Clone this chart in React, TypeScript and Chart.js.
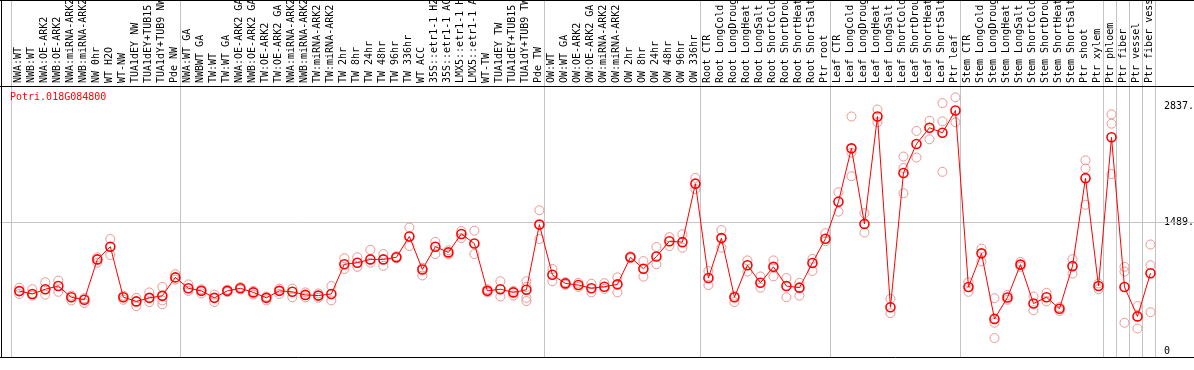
import React, { useEffect, useRef } from "react";
import { Chart, registerables } from "chart.js";

Chart.register(...registerables);

const geneId = "Potri.018G084800";

const categories: string[] = [
  "NWA:WT", "NWB:WT", "NWA:OE-ARK2", "NWB:OE-ARK2", "NWA:miRNA-ARK2", "NWB:miRNA-ARK2",
  "NW 0hr", "WT H2O", "WT-NW", "TUA1dEY NW", "TUA1dEY+TUB15 NW", "TUA1dY+TUB9 NW", "Pde NW",
  "NWA:WT GA", "NWBWT GA", "TW:WT", "TW:WT GA", "NWA:OE-ARK2 GA", "NWB:OE-ARK2 GA",
  "TW:OE-ARK2", "TW:OE-ARK2 GA", "NWA:miRNA-ARK2", "NWB:miRNA-ARK2", "TW:miRNA-ARK2",
  "TW:miRNA-ARK2", "TW 2hr", "TW 8hr", "TW 24hr", "TW 48hr", "TW 96hr", "TW 336hr", "WT ACC",
  "35S::etr1-1 H2O", "35S::etr1-1 ACC", "LMX5::etr1-1 H2O", "LMX5::etr1-1 ACC", "WT-TW",
  "TUA1dEY TW", "TUA1dEY+TUB15 TW", "TUA1dY+TUB9 TW", "Pde TW",
  "OW:WT", "OW:WT GA", "OW:OE-ARK2", "OW:OE-ARK2 GA", "OW:miRNA-ARK2", "OW:miRNA-ARK2",
  "OW 2hr", "OW 8hr", "OW 24hr", "OW 48hr", "OW 96hr", "OW 336hr",
  "Root CTR", "Root LongCold", "Root LongDrought", "Root LongHeat", "Root LongSalt",
  "Root ShortCold", "Root ShortDrought", "Root ShortHeat", "Root ShortSalt", "Ptr root",
  "Leaf CTR", "Leaf LongCold", "Leaf LongDrought", "Leaf LongHeat", "Leaf LongSalt",
  "Leaf ShortCold", "Leaf ShortDrought", "Leaf ShortHeat", "Leaf ShortSalt", "Ptr leaf",
  "Stem CTR", "Stem LongCold", "Stem LongDrought", "Stem LongHeat", "Stem LongSalt",
  "Stem ShortCold", "Stem ShortDrought", "Stem ShortHeat", "Stem ShortSalt", "Ptr shoot",
  "Ptr xylem", "Ptr phloem", "Ptr fiber", "Ptr vessel", "Ptr fiber vessel",
];

const means: number[] = [
  693, 660, 715, 752, 622, 593, 1060, 1207, 622, 574, 615, 638, 852,
  726, 696, 615, 696, 726, 678, 615, 696, 685, 649, 641, 660, 1004, 1022, 1060, 1060,
  1085, 1326, 944, 1207, 1141, 1355, 1244, 696, 715, 678, 708, 1463,
  882, 782, 763, 726, 744, 771, 1085, 952, 1093, 1271, 1260, 1937,
  844, 1307, 622, 993, 789, 974, 752, 733, 1019, 1300,
  1727, 2346, 1471, 2715, 506, 2061, 2396, 2585, 2526, 2785,
  741, 1130, 371, 619, 1000, 549, 622, 489, 982, 2001, 752,
  2474, 741, 400, 900,
];

const replicates: number[][] = [
  [733, 660], [715, 641], [796, 652], [815, 685], [641, 585], [611, 555], [1085, 1022],
  [1296, 1111], [641, 593], [615, 519], [678, 566], [741, 585, 541], [889, 826],
  [771, 696], [715, 666], [652, 566], [710, 682], [740, 712], [696, 652], [630, 585],
  [722, 660], [722, 622], [678, 619], [666, 615], [752, 585], [1074, 949], [1085, 974],
  [1171, 1022], [1122, 985], [1096, 1074], [1429, 1215], [963, 874], [1263, 1122],
  [1166, 1118], [1388, 1307], [1393, 1122], [715, 678], [807, 630], [696, 641],
  [807, 741, 615, 578], [1629, 1296],
  [949, 807], [796, 766], [789, 741], [778, 678], [785, 719], [852, 678], [1096, 1074],
  [1041, 860], [1204, 1004], [1318, 1215], [1352, 1196], [2004, 1874],
  [926, 763], [1400, 1196], [641, 566], [1049, 919], [863, 733], [1049, 863], [844, 622],
  [789, 641], [1066, 926], [1363, 1271],
  [1838, 1613], [2715, 2296, 2024], [1596, 1371], [2796, 2648], [604, 438],
  [2251, 2118, 1826], [2548, 2240], [2666, 2451], [2870, 2659, 2074], [2937, 2648],
  [796, 685], [1185, 1037], [611, 327, 149], [649, 593], [1030, 974], [630, 471],
  [674, 574], [508, 463], [1063, 896], [2207, 2113, 1693], [782, 715],
  [2740, 2632, 2048], [974, 919, 327], [519, 260], [1233, 993, 449],
];

const yTickValues: number[] = [0, 1489, 2837];
const yTickLabels: string[] = ["0", "1489.", "2837."];
const gridValue = 1489;
const groupStarts: number[] = [0, 13, 41, 53, 63, 73, 84, 85, 86, 87, 88];

const FONT = "DejaVu Sans Mono";
const REP_COLOR = "rgb(236,150,150)";

export default function App() {
  const canvasRef = useRef<HTMLCanvasElement | null>(null);

  useEffect(() => {
    document.body.style.margin = "0";
    const canvas = canvasRef.current;
    if (!canvas) return;

    const maxReps = Math.max(...replicates.map((r) => r.length));
    const repDatasets = Array.from({ length: maxReps }, (_, k) => ({
      label: `replicate ${k + 1}`,
      data: replicates.map((r) => (k < r.length ? r[k] : null)),
      showLine: false,
      borderColor: REP_COLOR,
      backgroundColor: "rgba(0,0,0,0)",
      pointRadius: 4.5,
      pointBorderWidth: 1,
      pointBorderColor: REP_COLOR,
      pointBackgroundColor: "rgba(0,0,0,0)",
      order: 2,
    }));

    const decor = {
      id: "decor",
      beforeDraw(chart: any) {
        const { ctx, width, height } = chart;
        ctx.save();
        ctx.fillStyle = "#ffffff";
        ctx.fillRect(0, 0, width, height);
        ctx.restore();
      },
      beforeDatasetsDraw(chart: any) {
        const { ctx, width, chartArea } = chart;
        const xs = chart.scales.x;
        const ys = chart.scales.y;
        ctx.save();
        ctx.strokeStyle = "#c4c4c4";
        ctx.lineWidth = 1;
        groupStarts.forEach((g) => {
          const x = Math.round(xs.getPixelForValue(g - 0.66)) + 0.5;
          ctx.beginPath();
          ctx.moveTo(x, 0);
          ctx.lineTo(x, chartArea.bottom);
          ctx.stroke();
        });
        const gy = Math.round(ys.getPixelForValue(gridValue)) + 0.5;
        ctx.beginPath();
        ctx.moveTo(0, gy);
        ctx.lineTo(width, gy);
        ctx.stroke();
        ctx.restore();
      },
      afterDraw(chart: any) {
        const { ctx, width, chartArea } = chart;
        ctx.save();
        ctx.strokeStyle = "#000000";
        ctx.lineWidth = 1;
        const top = Math.round(chartArea.top) + 0.5;
        const bottom = Math.round(chartArea.bottom) + 0.5;
        ctx.beginPath();
        ctx.moveTo(0, top);
        ctx.lineTo(width, top);
        ctx.moveTo(0, bottom);
        ctx.lineTo(width, bottom);
        ctx.moveTo(1.5, 0);
        ctx.lineTo(1.5, bottom);
        ctx.moveTo(0, 0.5);
        ctx.lineTo(width, 0.5);
        ctx.stroke();
        ctx.fillStyle = "#ff0000";
        ctx.font = `10px "${FONT}"`;
        ctx.textBaseline = "middle";
        ctx.textAlign = "left";
        ctx.fillText(geneId, 10, chartArea.top + 11);
        ctx.restore();
      },
    };

    const chart = new Chart(canvas, {
      type: "line",
      data: {
        labels: categories,
        datasets: [
          ...repDatasets,
          {
            label: geneId,
            data: means,
            borderColor: "#ff0000",
            borderWidth: 1,
            backgroundColor: "rgba(0,0,0,0)",
            pointRadius: 4.5,
            pointBorderWidth: 1.6,
            pointBorderColor: "#ff0000",
            pointBackgroundColor: "rgba(0,0,0,0)",
            tension: 0,
            order: 1,
          },
        ] as any,
      },
      options: {
        animation: false,
        responsive: false,
        devicePixelRatio: 1,
        layout: { padding: { left: 12.8, right: 0, top: 0, bottom: 1 } },
        plugins: {
          legend: { display: false },
          tooltip: { enabled: false },
          title: { display: false },
        },
        scales: {
          x: {
            type: "category",
            position: "top",
            offset: true,
            grid: { display: false, drawTicks: false },
            border: { display: false },
            ticks: {
              autoSkip: false,
              minRotation: 90,
              maxRotation: 90,
              padding: 3,
              labelOffset: 11,
              color: "#000000",
              font: { family: FONT, size: 10 },
            },
            afterFit: (scale: any) => {
              scale.height = 86;
            },
          },
          y: {
            type: "linear",
            position: "right",
            min: -70,
            max: 3068,
            grid: { display: false, drawTicks: false },
            border: { display: false },
            afterBuildTicks: (scale: any) => {
              scale.ticks = yTickValues.map((v) => ({ value: v }));
            },
            ticks: {
              padding: 7,
              color: "#000000",
              font: { family: FONT, size: 10 },
              callback: (v: any) => {
                const i = yTickValues.indexOf(Number(v));
                return i >= 0 ? yTickLabels[i] : "";
              },
            },
            afterFit: (scale: any) => {
              scale.width = 37;
            },
          },
        },
      },
      plugins: [decor],
    });

    return () => chart.destroy();
  }, []);

  return (
    <div style={{ width: 1194, height: 370 }}>
      <canvas ref={canvasRef} width={1194} height={370} style={{ display: "block" }} />
    </div>
  );
}
